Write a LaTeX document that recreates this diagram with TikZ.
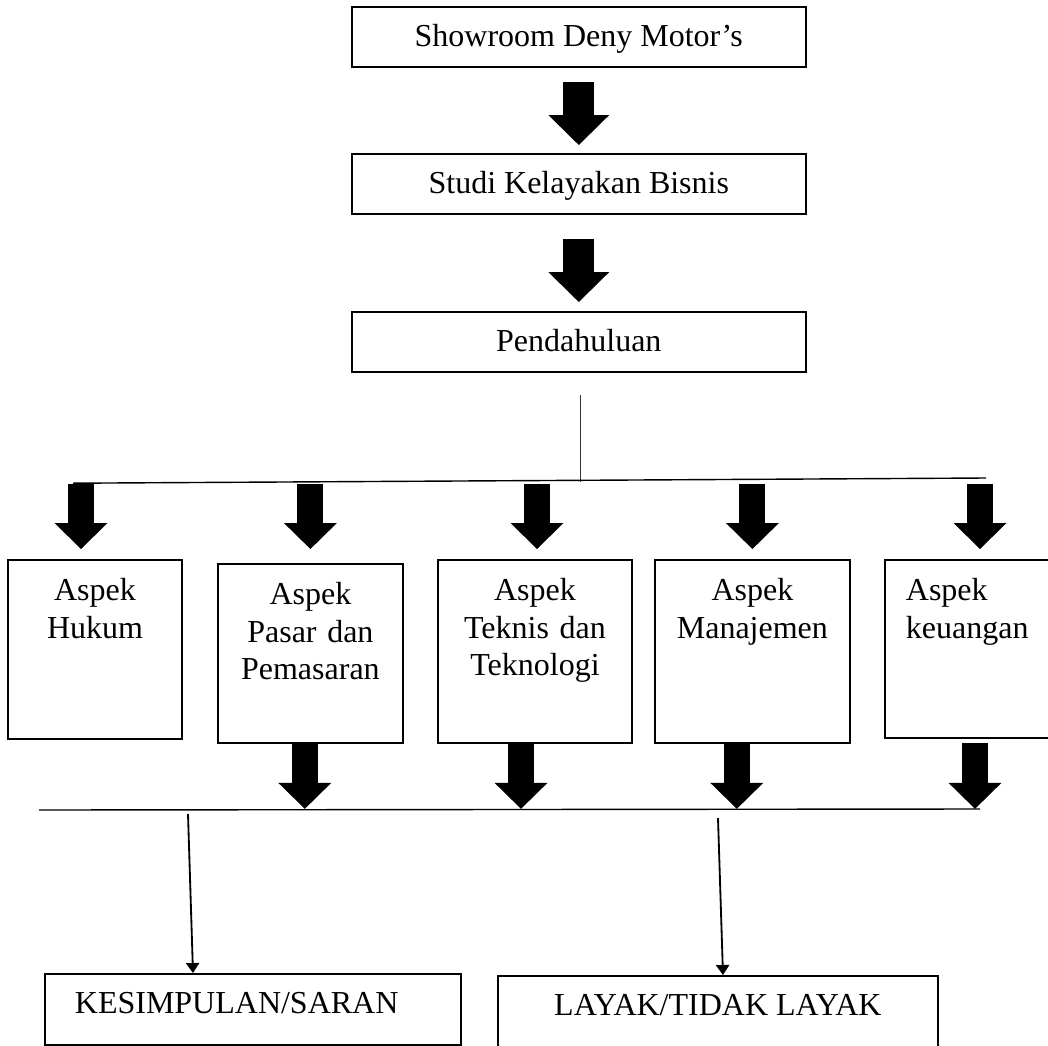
\documentclass[tikz,border=0pt]{standalone}
\usepackage{fontspec}
\setmainfont{Liberation Serif}
\usetikzlibrary{arrows.meta,positioning}

\begin{document}
\begin{tikzpicture}[
  font=\fontsize{22.76pt}{26.67pt}\selectfont,
  box/.style={draw, line width=1.3pt, inner sep=0pt},
  topbox/.style={box, anchor=north, minimum width=11.35cm, text height=1cm, text depth=0.5cm},
  aspekbox/.style={box, anchor=north, align=center, text height=1.025cm, text depth=3.45cm},
  endbox/.style={box, anchor=north west, text height=1cm},
  bigarrow/.style={line width=0.775cm, arrows={-Triangle[width=1.525cm, length=0.75cm, line width=0pt]}},
  rowarrow/.style={line width=0.65cm, arrows={-Triangle[width=1.325cm, length=0.65cm, line width=0pt]}},
  thinarrow/.style={line width=1.3pt, arrows={-Triangle[width=0.33cm, length=0.25cm]}},
  barline/.style={line width=1pt}
]
\useasboundingbox (0,0) rectangle (26.2,-26.15);
\clip (0,0) rectangle (26.2,-26.15);

% =====================
% ALUR ATAS
% =====================
\node[topbox] (showroom) at (14.47,-0.15) {Showroom Deny Motor’s};
\node[topbox] (studi) at (14.47,-3.825) {Studi Kelayakan Bisnis};
\node[topbox] (pendahuluan) at (14.47,-7.775) {Pendahuluan};

\draw[bigarrow] ([yshift=-0.35cm]showroom.south) -- ([yshift=0.2cm]studi.north);
\draw[bigarrow] ([yshift=-0.6cm]studi.south) -- ([yshift=0.225cm]pendahuluan.north);

% =====================
% PERCABANGAN
% =====================
\coordinate (split) at (14.5,-12.05);
\coordinate (barL) at (1.83,-12.08);
\coordinate (barR) at (24.65,-11.95);
\draw[line width=0.7pt, black!80] ([xshift=0.03cm,yshift=-0.55cm]pendahuluan.south) -- (split);
\draw[barline] (barL) -- (barR);

% =====================
% ASPEK
% =====================
\node[aspekbox, text width=4.35cm] (hukum) at (2.375,-13.975) {Aspek\\Hukum};
\node[aspekbox, text width=4.625cm] (pasar) at (7.76,-14.075) {Aspek\\Pasar dan\\Pemasaran};
\node[aspekbox, text width=4.85cm, text depth=3.55cm] (teknis) at (13.375,-13.975) {Aspek\\Teknis dan\\Teknologi};
\node[aspekbox, text width=4.875cm, text depth=3.55cm] (manajemen) at (18.81,-13.975) {Aspek\\Manajemen};
\node[aspekbox, anchor=north west, align=left, inner xsep=0.525cm, text width=3.5cm, text depth=3.425cm] (keuangan) at (22.1,-13.975) {Aspek\\keuangan};

\draw[rowarrow] ([xshift=-0.35cm,yshift=1.875cm]hukum.north) -- ([xshift=-0.35cm,yshift=0.25cm]hukum.north);
\draw[rowarrow] ([yshift=1.975cm]pasar.north) -- ([yshift=0.35cm]pasar.north);
\draw[rowarrow] ([xshift=0.05cm,yshift=1.875cm]teknis.north) -- ([xshift=0.05cm,yshift=0.25cm]teknis.north);
\draw[rowarrow] ([yshift=1.875cm]manajemen.north) -- ([yshift=0.25cm]manajemen.north);
\draw[rowarrow] ([xshift=2.4cm,yshift=1.875cm]keuangan.north west) -- ([xshift=2.4cm,yshift=0.25cm]keuangan.north west);

% =====================
% PENGGABUNGAN
% =====================
\draw[rowarrow] ([xshift=-0.14cm]pasar.south) -- ([xshift=-0.14cm,yshift=-1.625cm]pasar.south);
\draw[rowarrow] ([xshift=-0.35cm]teknis.south) -- ([xshift=-0.35cm,yshift=-1.625cm]teknis.south);
\draw[rowarrow] ([xshift=-0.39cm]manajemen.south) -- ([xshift=-0.39cm,yshift=-1.625cm]manajemen.south);
\draw[rowarrow] ([xshift=2.275cm,yshift=-0.1cm]keuangan.south west) -- ([xshift=2.275cm,yshift=-1.75cm]keuangan.south west);

\coordinate (joinL) at (0.975,-20.25);
\coordinate (joinR) at (24.5,-20.225);
\draw[barline] (joinL) -- (joinR);

% =====================
% HASIL
% =====================
\node[endbox, align=left, inner xsep=0.75cm, text width=8.9cm, text depth=0.775cm] (kesimpulan) at (1.1,-24.325) {KESIMPULAN/SARAN};
\node[endbox, minimum width=11cm, text depth=2cm] (layak) at (12.425,-24.375) {LAYAK/TIDAK LAYAK};

\coordinate (kesStart) at (4.7,-20.35);
\coordinate (layakStart) at (17.95,-20.45);
\draw[thinarrow] (kesStart) -- ([xshift=3.725cm]kesimpulan.north west);
\draw[thinarrow] (layakStart) -- ([xshift=5.65cm]layak.north west);

\end{tikzpicture}
\end{document}
